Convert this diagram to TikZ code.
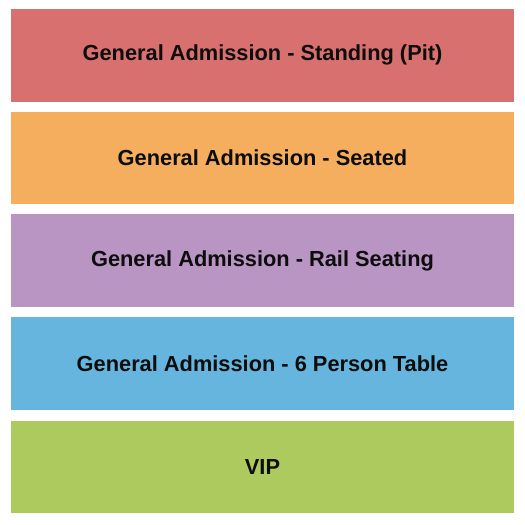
\documentclass[tikz,border=0pt]{standalone}
\usepackage{fontspec}
\setmainfont{Liberation Sans}
\definecolor{pitred}{HTML}{D97070}
\definecolor{seatorange}{HTML}{F4AE5E}
\definecolor{railpurple}{HTML}{B995C4}
\definecolor{tableblue}{HTML}{66B5DE}
\definecolor{vipgreen}{HTML}{ADCA5E}
\tikzset{
  band/.style={minimum width=503pt,minimum height=92.5pt,inner sep=0pt,
    font=\fontsize{21.8}{24}\selectfont\bfseries,text=black!95}
}
\begin{document}
\begin{tikzpicture}[x=1pt,y=-1pt]
            \useasboundingbox[fill=white](0,0)rectangle(525,525);
            \node[band,fill=pitred](pit)at(262.5,55.25){General Admission - Standing (Pit)};
            \node[band,fill=seatorange](seated)at(262.5,157.75){General Admission - Seated};
            \node[band,fill=railpurple](rail)at(262.5,260.5){General Admission - Rail Seating};
            \node[band,fill=tableblue](table)at(262.5,363.5){General Admission - 6 Person Table};
            \node[band,fill=vipgreen](vip)at(262.5,467){VIP};
        \end{tikzpicture}
\end{document}
